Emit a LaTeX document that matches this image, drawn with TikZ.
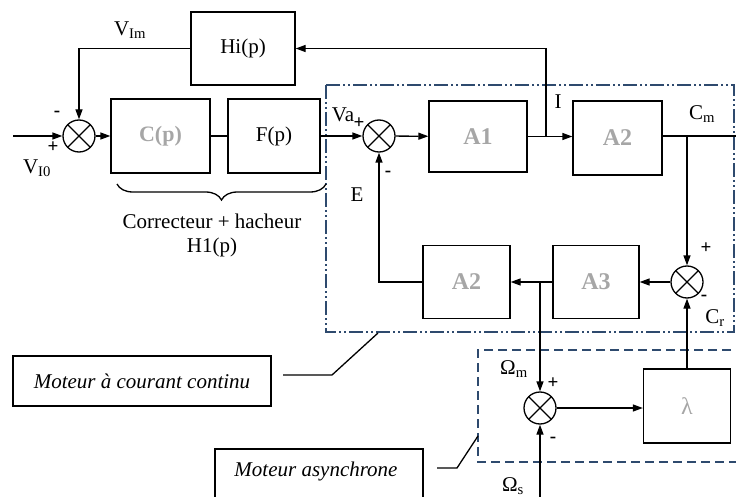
\documentclass[tikz,border=0pt]{standalone}
\usepackage{fontspec}
\setmainfont{Liberation Serif}
\usetikzlibrary{arrows.meta,decorations.pathreplacing}
\definecolor{frameblue}{HTML}{2E4A6E}
\definecolor{lightgray}{HTML}{A6A6A6}
\begin{document}
\begin{tikzpicture}[x=1pt,y=-1pt, line width=1.3pt,
 blk/.style={draw, rectangle, inner sep=0pt},
 sumn/.style={draw, circle, minimum size=32pt, inner sep=0pt,
   path picture={\draw[line width=1.3pt] (path picture bounding box.north west)--(path picture bounding box.south east)
     (path picture bounding box.north east)--(path picture bounding box.south west);}},
 arr/.style={-{Triangle[length=10pt,width=7pt]}},
 lbl/.style={font=\fontsize{21}{24}\selectfont, inner sep=0pt},
 gry/.style={font=\fontsize{24}{26}\selectfont\bfseries, text=lightgray},
 sgn/.style={font=\fontsize{19}{21}\selectfont\bfseries, inner sep=0pt},
 ddframe/.style={draw=frameblue, line width=1.3pt, dash pattern=on 14pt off 3pt on 2pt off 3pt on 2pt off 3pt},
 dframe/.style={draw=frameblue, line width=1.3pt, dash pattern=on 9pt off 5pt},
 note/.style={draw, rectangle, inner sep=0pt, font=\fontsize{21}{24}\selectfont\itshape}
]
\useasboundingbox (0,0) rectangle (736,497);

% frames
\draw[ddframe] (326,85) rectangle (734,332);
\draw[dframe] (745,350) -- (478,350) -- (478,462) -- (745,462);

% blocks
\node[blk, minimum width=104pt, minimum height=73pt, lbl] (hi) at (243,48.5) {Hi(p)};
\node[sumn] (s1) at (79,136) {};
\node[blk, minimum width=99pt, minimum height=74pt, gry, font=\fontsize{22}{26}\selectfont\bfseries] (cp) at (160.5,136) {C(p)};
\node[blk, minimum width=92pt, minimum height=74pt, lbl] (fp) at (274,136) {F(p)};
\node[sumn] (s2) at (379,136) {};
\node[blk, minimum width=98pt, minimum height=71pt, gry] (a1) at (478,136.5) {A1};
\node[blk, minimum width=89pt, minimum height=74pt, gry] (a2t) at (617.5,138) {A2};
\node[sumn] (s3) at (687,282) {};
\node[blk, minimum width=86pt, minimum height=73pt, gry] (a3) at (596,282) {A3};
\node[blk, minimum width=87pt, minimum height=73pt, gry] (a2b) at (466.5,282) {A2};
\node[sumn] (s4) at (540,408) {};
\node[blk, minimum width=87pt, minimum height=74pt, gry, font=\fontsize{24}{26}\selectfont] (lam) at (687,406) {λ};

% coordinates
\coordinate (in1) at (13,136);
\coordinate (bI) at (546,136);
\coordinate (out) at (736,136);
\coordinate (bC) at (687,136);
\coordinate (bW) at (540,282);
\coordinate (inS) at (540,497);

% connectors
\draw[arr] (in1) -- (s1);
\draw[arr] (s1) -- (cp);
\draw (cp) -- (fp);
\draw[arr] (fp) -- (s2);
\draw[arr] (s2) -- (a1);
\draw[arr] (a1) -- (a2t.west |- a1.east);
\draw[arr] (bI) |- (hi.east);
\draw[arr] (hi.west) -| (s1.north);
\draw (a2t.east |- out) -- (out);
\draw[arr] (bC) -- (s3.north);
\draw[arr] (s3) -- (a3);
\draw[arr] (a3) -- (a2b);
\draw[arr] (bW) -- (s4.north);
\draw[arr] (a2b.west) -| (s2.south);
\draw[arr] (s4) -- (lam.west |- s4.east);
\draw[arr] (lam.north) -- (s3.south);
\draw[arr] (inS) -- (s4.south);

% brace
\draw[line width=1.3pt, decorate, decoration={brace, amplitude=16pt, mirror, aspect=0.5}] (117,184) -- (326,184);

% labels
\node[lbl] (lvim) at (130,30) {V\textsubscript{Im}};
\node[sgn] (m1) at (57,114) {-};
\node[sgn] (p1) at (53,147) {+};
\node[lbl] (lvi0) at (37,168) {V\textsubscript{I0}};
\node[lbl] (lva) at (343,115) {Va};
\node[sgn] (p2) at (359,123) {+};
\node[sgn] (m2) at (388,174) {-};
\node[lbl] (le) at (357,195) {E};
\node[lbl] (li) at (558,102) {I};
\node[lbl] (lcm) at (702,114) {C\textsubscript{m}};
\node[sgn] (p3) at (706,248) {+};
\node[sgn] (m3) at (704,298) {-};
\node[lbl] (lcr) at (715,318) {C\textsubscript{r}};
\node[lbl] (lom) at (514,369) {Ω\textsubscript{m}};
\node[sgn] (p4) at (553,383) {+};
\node[sgn] (m4) at (553,440) {-};
\node[lbl] (los) at (513,486) {Ω\textsubscript{s}};
\node[lbl, align=center] (lcor) at (212,235) {Correcteur + hacheur\\H1(p)};

% notes
\node[note, minimum width=258pt, minimum height=50pt] (mcc) at (142,381) {Moteur à courant continu};
\draw (283,375) -- (332,375) -- (378,333);
\draw (215,510) -- (215,449) -- (423,449) -- (423,510);
\node[lbl, font=\fontsize{21}{24}\selectfont\itshape] (mas) at (316,471) {Moteur asynchrone};
\draw (437,468) -- (457,468) -- (478,436);
\end{tikzpicture}
\end{document}
